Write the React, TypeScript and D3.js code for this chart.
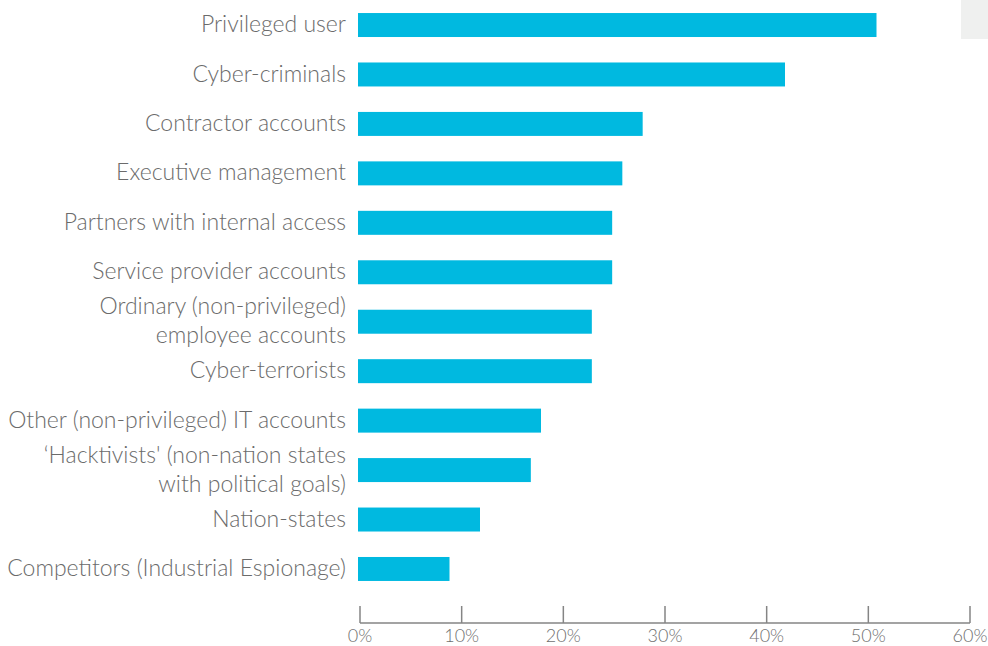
import React, { useEffect, useRef } from "react";
import * as d3 from "d3";

// categories, top to bottom (multi-line labels split with "\n")
const categories = [
  "Privileged user",
  "Cyber-criminals",
  "Contractor accounts",
  "Executive management",
  "Partners with internal access",
  "Service provider accounts",
  "Ordinary (non-privileged)\nemployee accounts",
  "Cyber-terrorists",
  "Other (non-privileged) IT accounts",
  "\u2018Hacktivists' (non-nation states\nwith political goals)",
  "Nation-states",
  "Competitors (Industrial Espionage)",
];
const values = [51, 42, 28, 26, 25, 25, 23, 23, 18, 17, 12, 9];
const ticks = [0, 10, 20, 30, 40, 50, 60];

const W = 988,
  H = 646;

const App = () => {
  const svgRef = useRef<SVGSVGElement>(null);

  useEffect(() => {
    const svg = d3.select(svgRef.current);
    svg.selectAll("*").remove();

    const x = d3.scaleLinear().domain([0, 60]).range([360, 970]);
    const y = d3
      .scaleBand()
      .domain(categories)
      .range([0.3, 593.7])
      .paddingInner(0.515)
      .paddingOuter(0.2575);

    // grey box top right
    svg
      .append("rect")
      .attr("x", 961)
      .attr("y", 0)
      .attr("width", 27)
      .attr("height", 39)
      .attr("fill", "#eff0ef");

    // bars (drawn 2px left of the axis origin like the source)
    svg
      .append("g")
      .selectAll("rect")
      .data(values)
      .enter()
      .append("rect")
      .attr("x", x(0) - 2)
      .attr("y", (d, i) => y(categories[i]) as number)
      .attr("width", (d) => x(d) - x(0))
      .attr("height", y.bandwidth())
      .attr("fill", "#00b9e0");

    // category labels
    const lab = svg
      .append("g")
      .selectAll("text")
      .data(categories)
      .enter()
      .append("text")
      .attr("text-anchor", "end")
      .attr("font-family", "Lato, 'Open Sans', sans-serif")
      .attr("font-weight", 300)
      .attr("font-size", 23)
      .attr("fill", "#6b6b6b")
      .attr("transform", (d) => {
        const cy = (y(d) as number) + y.bandwidth() / 2 - 1;
        return "translate(346," + cy + ")";
      });
    lab.each(function (d) {
      const lines = d.split("\n");
      const t = d3.select(this);
      const lh = 29;
      lines.forEach((l, k) => {
        t.append("tspan")
          .attr("x", 0)
          .attr("y", (k - (lines.length - 1) / 2) * lh)
          .attr("dy", "0.35em")
          .text(l);
      });
    });

    // axis
    const ax = svg.append("g").attr("stroke", "#858585").attr("stroke-width", 1.5);
    ax.append("line")
      .attr("x1", x(0))
      .attr("x2", x(60))
      .attr("y1", 623)
      .attr("y2", 623);
    ax.selectAll("line.tick")
      .data(ticks)
      .enter()
      .append("line")
      .attr("class", "tick")
      .attr("x1", (d) => x(d))
      .attr("x2", (d) => x(d))
      .attr("y1", 606)
      .attr("y2", 623);

    svg
      .append("g")
      .selectAll("text")
      .data(ticks)
      .enter()
      .append("text")
      .attr("x", (d) => x(d))
      .attr("y", 642)
      .attr("text-anchor", "middle")
      .attr("font-family", "Lato, 'Open Sans', sans-serif")
      .attr("font-weight", 300)
      .attr("font-size", 18)
      .attr("fill", "#707070")
      .text((d) => d + "%");
  }, []);

  return (
    <svg
      ref={svgRef}
      width={W}
      height={H}
      style={{ position: "absolute", left: 0, top: 0, background: "#fff" }}
    ></svg>
  );
};

export default App;
